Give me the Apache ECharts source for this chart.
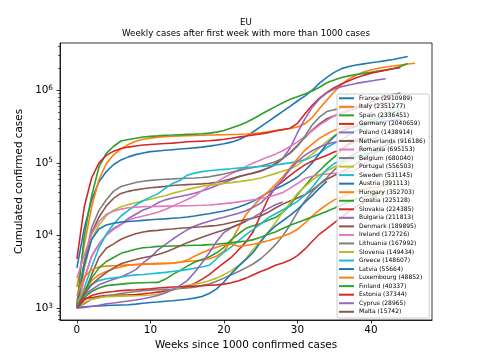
<!DOCTYPE html>
<html><head><meta charset="utf-8">
<script src="https://cdn.jsdelivr.net/npm/echarts@6/dist/echarts.min.js"></script>
<style>html,body{margin:0;padding:0;background:#fff}#c{width:480px;height:360px}</style>
</head><body><div id="c"></div>
<script>
const countries = ['France','Italy','Spain','Germany','Poland','Netherlands','Romania','Belgium','Portugal','Sweden','Austria','Hungary','Croatia','Slovakia','Bulgaria','Denmark','Ireland','Lithuania','Slovenia','Greece','Latvia','Luxembourg','Finland','Estonia','Cyprus','Malta'];
const totals = [2910989,2351277,2336451,2040659,1438914,916186,695153,680040,556503,531145,391113,352703,225128,224385,211813,189895,172726,167992,149434,148607,55664,48852,40337,37344,28965,15742];

const France = [3600,12600,31000,55000,76000,95000,110000,121000,130000,137000,143000,146000,149000,152000,155000,158000,161000,165000,170000,176000,183000,193000,208000,232000,268000,315000,370000,435000,510000,600000,710000,830000,1000000,1250000,1500000,1760000,1980000,2120000,2220000,2300000,2380000,2460000,2550000,2650000,2780000,2910989];
const Italy = [1950,7400,24700,59100,97700,129000,156000,179000,198000,211000,219000,225000,230000,233000,235000,237000,238500,240300,241600,242800,244400,246100,248000,250000,254000,260000,268000,278000,288000,298000,312000,345000,420000,560000,730000,950000,1200000,1430000,1620000,1780000,1900000,2000000,2080000,2150000,2220000,2290000,2351277];
const Spain = [1100,9900,35100,88000,135000,169500,200200,209500,218000,227400,231600,235400,239600,241700,244100,246500,249000,251800,256600,264800,278800,302800,326600,359100,405400,462900,525500,593700,671500,748300,813400,889000,974400,1098300,1264500,1381200,1496900,1574100,1648200,1702300,1762200,1829900,1893500,1982500,2111800,2336451];
const Germany = [4800,24900,62000,100000,127000,145000,158000,165000,171000,176000,179000,182000,185000,187000,191000,195000,197000,199000,202000,206000,211000,218000,226000,234000,243000,251000,261000,275000,287000,300000,350000,470000,620000,780000,930000,1080000,1220000,1350000,1480000,1600000,1710000,1800000,1890000,1970000,2040659];
const Poland = [1050,2550,5200,7600,10200,12600,14400,17200,19700,22500,24400,28200,31000,32800,34400,36200,38200,41000,44400,48800,53400,58600,64700,68900,73400,78300,84300,93500,115000,160000,260000,400000,580000,760000,920000,1040000,1120000,1180000,1240000,1290000,1340000,1390000,1438914];
const Netherlands = [1100,4200,10900,17900,25600,32700,38000,40600,42600,44100,45400,46400,47500,48900,49700,50300,50900,51500,52400,54000,56700,60600,64700,68700,72000,77000,85400,98200,115000,139000,174000,223000,282000,344000,405000,446000,483000,523000,561000,614000,683000,759000,822000,875000,916186];
const Romania = [1030,2500,5200,7700,10100,12200,14100,16400,17600,18600,19700,20900,22800,25300,28200,31400,35000,41300,48200,54000,63100,71000,80400,89600,100000,110000,121000,132000,147000,168000,195000,230000,276000,330000,385000,443000,496000,540000,580000,606000,632000,656000,695153];
const Belgium = [1200,4300,12800,22200,31100,40900,47300,50500,53800,55800,57500,58600,59600,60200,60900,61500,62100,62900,64300,67300,70300,74200,78300,82900,86500,90600,96800,104000,116000,135000,170000,231000,333000,430000,508000,540000,563000,580000,595000,610000,627000,643000,660000,680040];
const Portugal = [1020,3500,9000,13900,18800,22400,25000,26700,28300,30200,31600,33600,35300,38100,40400,43200,45300,47800,49400,50600,52100,53500,55200,57100,59100,62100,66600,71200,77300,82500,93300,112000,132000,161000,198000,236000,274000,307000,335000,362000,389000,427000,471000,556503];
const Sweden = [1020,1900,3700,6800,10500,14400,18600,22300,26300,30100,33800,37500,44700,52000,57300,67700,72300,75800,78000,79800,81500,83100,84900,86200,87700,89000,90900,93600,96900,100000,104000,110000,121000,135000,163000,186000,209000,244000,279000,321000,366000,397000,449000,496000,531145];
const Austria = [1020,3900,8800,12300,14000,14800,15300,15600,15900,16200,16500,16800,17000,17300,17600,18000,18600,19300,20000,20900,21800,23000,24800,27000,29800,34000,39000,43800,48800,55500,64000,78000,100000,135000,182000,230000,270000,298000,318000,336000,350000,362000,376000,385000,391113];
const Hungary = [1200,1800,2400,2900,3200,3500,3700,3900,4000,4100,4100,4150,4170,4200,4300,4400,4500,4600,4800,5200,6100,8400,12900,19500,25500,33000,39900,50200,64600,84800,114000,149000,181000,217000,250000,280000,304000,321000,330000,341000,352703];
const Croatia = [1000,1400,1700,1900,2050,2100,2150,2200,2230,2250,2260,2270,2500,2900,3300,3800,4300,4700,5100,5800,6900,8800,10600,12600,13700,14700,16200,17700,20900,26300,36400,48100,63000,78000,98500,120000,149000,178000,199000,211000,217000,225128];
const Slovakia = [1050,1360,1400,1460,1500,1510,1520,1530,1550,1580,1620,1670,1720,1800,1900,2000,2200,2500,2900,3500,4200,5000,6400,8200,11400,19300,32100,46400,55800,67200,80000,94000,106000,116000,127000,141000,151000,185000,208000,224385];
const Bulgaria = [1015,1500,1800,2100,2300,2500,2700,3000,3400,4200,5000,6300,7500,8900,10400,12000,13500,14700,15800,16900,17900,19000,20300,22000,24500,28000,35000,45000,60000,82000,105000,127000,147000,165000,180000,192000,200000,206000,211813];
const Denmark = [1020,1600,2900,5000,6700,7700,8900,9800,10600,11200,11600,11800,12100,12300,12600,12800,13000,13200,13500,13800,14300,15100,15900,16600,17400,18600,20900,24000,27100,30000,32800,36400,42200,50500,59700,67200,75400,84200,97000,116000,139000,160000,174000,189895];
const Ireland = [2600,5400,10600,15600,19600,21800,23100,24100,24600,24900,25100,25250,25400,25500,25600,25750,25900,26100,26400,26900,27500,28200,29100,30100,31200,32300,34000,36200,39000,45000,52000,61000,65500,68700,70500,72000,74200,76200,80000,96000,113000,152000,172726];
const Lithuania = [1030,1150,1340,1400,1480,1530,1600,1650,1700,1750,1780,1800,1820,1840,1870,1900,1950,2050,2150,2350,2600,2900,3200,3600,4100,4800,5900,7500,9900,14000,21000,30000,40000,51000,63000,80000,100000,120000,138000,153000,167992];
const Slovenia = [1000,1200,1330,1400,1440,1460,1470,1480,1490,1500,1520,1560,1650,1800,1950,2050,2150,2250,2400,2600,2900,3300,3900,4800,6500,8500,11000,15000,21000,28000,38000,47000,58000,68000,78000,88000,98000,108000,118000,128000,138000,149434];
const Greece = [1060,1700,2150,2400,2550,2620,2700,2800,2880,2920,2980,3050,3120,3200,3300,3400,3550,3700,3900,4800,5900,7000,8500,10300,12200,14500,17500,20000,22500,25500,29500,36000,46000,62000,82000,98000,108000,117000,125000,132000,138000,143500,148607];
const Latvia = [1030,1050,1065,1080,1090,1100,1110,1120,1140,1170,1200,1220,1250,1270,1300,1330,1380,1450,1600,1850,2300,3000,3800,4700,5900,8200,11000,13500,16000,19000,23000,28500,35500,45000,55664];
const Luxembourg = [1500,2700,3400,3700,3800,3850,3900,3950,3990,4020,4050,4080,4120,4180,4300,4600,5200,5800,6400,6900,7400,7700,7100,7300,7600,8000,8500,9100,9800,10700,12200,14800,18600,22500,26700,31000,34000,37500,40400,43500,45500,47000,48000,48852];
const Finland = [1040,1600,2600,3600,4400,5000,5700,6100,6500,6800,6900,7100,7150,7200,7250,7300,7350,7400,7500,7600,7800,8000,8200,8400,8800,9500,10400,11200,12500,13900,15100,16500,18000,19700,21600,23700,26300,29000,32100,34400,36100,38300,40337];
const Estonia = [1000,1300,1500,1600,1660,1700,1750,1780,1800,1830,1860,1900,1930,1960,1980,2000,2020,2040,2070,2100,2150,2250,2400,2600,2900,3200,3500,3900,4200,4600,5300,6500,8300,10500,12500,15000,18000,21500,25000,28500,32500,37344];
const Cyprus = [1000,1030,1060,1100,1150,1180,1220,1260,1300,1350,1420,1500,1620,1800,2050,2400,3100,4200,5800,8300,11000,12800,14200,15800,17800,20500,23500,26500,28965];
const Malta = [1000,1550,2100,2600,3100,3600,4100,4400,4700,4950,5200,5500,5900,6500,7200,8000,8700,9500,10300,11100,11900,12900,14200,15742];

const seriesValues = [France,Italy,Spain,Germany,Poland,Netherlands,Romania,Belgium,Portugal,Sweden,Austria,Hungary,Croatia,Slovakia,Bulgaria,Denmark,Ireland,Lithuania,Slovenia,Greece,Latvia,Luxembourg,Finland,Estonia,Cyprus,Malta];

const xTicks = [0,10,20,30,40];
const yTicks = [1000,10000,100000,1000000];
const yMinor = [700,800,900,2000,3000,4000,5000,6000,7000,8000,9000,20000,30000,40000,50000,60000,70000,80000,90000,200000,300000,400000,500000,600000,700000,800000,900000,2000000,3000000,4000000];
const supers = {1000:'3',10000:'4',100000:'5',1000000:'6'};

const palette = ['#1f77b4','#ff7f0e','#2ca02c','#d62728','#9467bd','#8c564b','#e377c2','#7f7f7f','#bcbd22','#17becf'];
const FONT = 'DejaVu Sans';
const names = countries.map((c,i)=>c+' ('+totals[i]+')');

const chart = echarts.init(document.getElementById('c'), null, {renderer:'canvas'});
chart.setOption({
  animation:false,
  color: palette,
  textStyle:{fontFamily:FONT},
  title:[
    {text:'EU', left:246, top:18.5, textAlign:'center', padding:0, textStyle:{fontSize:8.68, fontWeight:'normal', color:'#000', fontFamily:FONT}},
    {text:'Weekly cases after first week with more than 1000 cases', left:246, top:29, textAlign:'center', padding:0, textStyle:{fontSize:8.68, fontWeight:'normal', color:'#000', fontFamily:FONT}}
  ],
  grid:{left:60, top:43, width:372, height:277, show:true, borderColor:'#000', borderWidth:0.8, backgroundColor:'transparent'},
  legend:{
    orient:'vertical', left:337, top:94, icon:'rect', itemWidth:15, itemHeight:2, itemGap:0,
    padding:[0,4,2,2], backgroundColor:'rgba(255,255,255,0.8)', borderColor:'#cccccc', borderWidth:1, borderRadius:2,
    selectedMode:false, data:names,
    textStyle:{fontSize:6.03, lineHeight:8.54, color:'#000', fontFamily:FONT}
  },
  xAxis:{
    type:'value', min:-2.3, max:48.3,
    name:'Weeks since 1000 confirmed cases', nameLocation:'middle', nameGap:20.5,
    nameTextStyle:{fontSize:10.4, color:'#000', fontFamily:FONT},
    axisLine:{show:true, onZero:false, lineStyle:{color:'#000', width:0.8}},
    axisTick:{show:true, length:3.5, lineStyle:{color:'#000', width:0.8}, customValues:xTicks},
    axisLabel:{show:true, margin:5.5, fontSize:10.4, color:'#000', fontFamily:FONT, customValues:xTicks},
    splitLine:{show:false}
  },
  yAxis:[
    {
      type:'log', logBase:10, min:690, max:4460000,
      name:'Cumulated confirmed cases', nameLocation:'middle', nameGap:31,
      nameTextStyle:{fontSize:10.4, color:'#000', fontFamily:FONT},
      axisLine:{show:true, onZero:false, lineStyle:{color:'#000', width:0.8}},
      axisTick:{show:true, length:3.5, lineStyle:{color:'#000', width:0.8}, customValues:yTicks},
      axisLabel:{show:true, margin:7, customValues:yTicks,
        formatter:function(v){ const k = Math.round(v); return '{b|10}{s|'+(supers[k]||'')+'}'; },
        rich:{
          b:{fontSize:10.4, lineHeight:12, color:'#000', fontFamily:FONT},
          s:{fontSize:7.3, lineHeight:7.3, verticalAlign:'top', color:'#000', fontFamily:FONT}
        }},
      splitLine:{show:false}
    },
    {
      type:'log', logBase:10, min:690, max:4460000, position:'left',
      axisLine:{show:false, onZero:false},
      axisTick:{show:true, length:2, lineStyle:{color:'#000', width:0.6}, customValues:yMinor},
      axisLabel:{show:false},
      splitLine:{show:false}
    }
  ],
  series: seriesValues.map((vals,i)=>({
    name:names[i], type:'line', yAxisIndex:0, showSymbol:false, symbol:'none',
    lineStyle:{width:1.6, color:palette[i%10]}, itemStyle:{color:palette[i%10]},
    data: vals.map((v,w)=>[w,v])
  }))
});
</script></body></html>
